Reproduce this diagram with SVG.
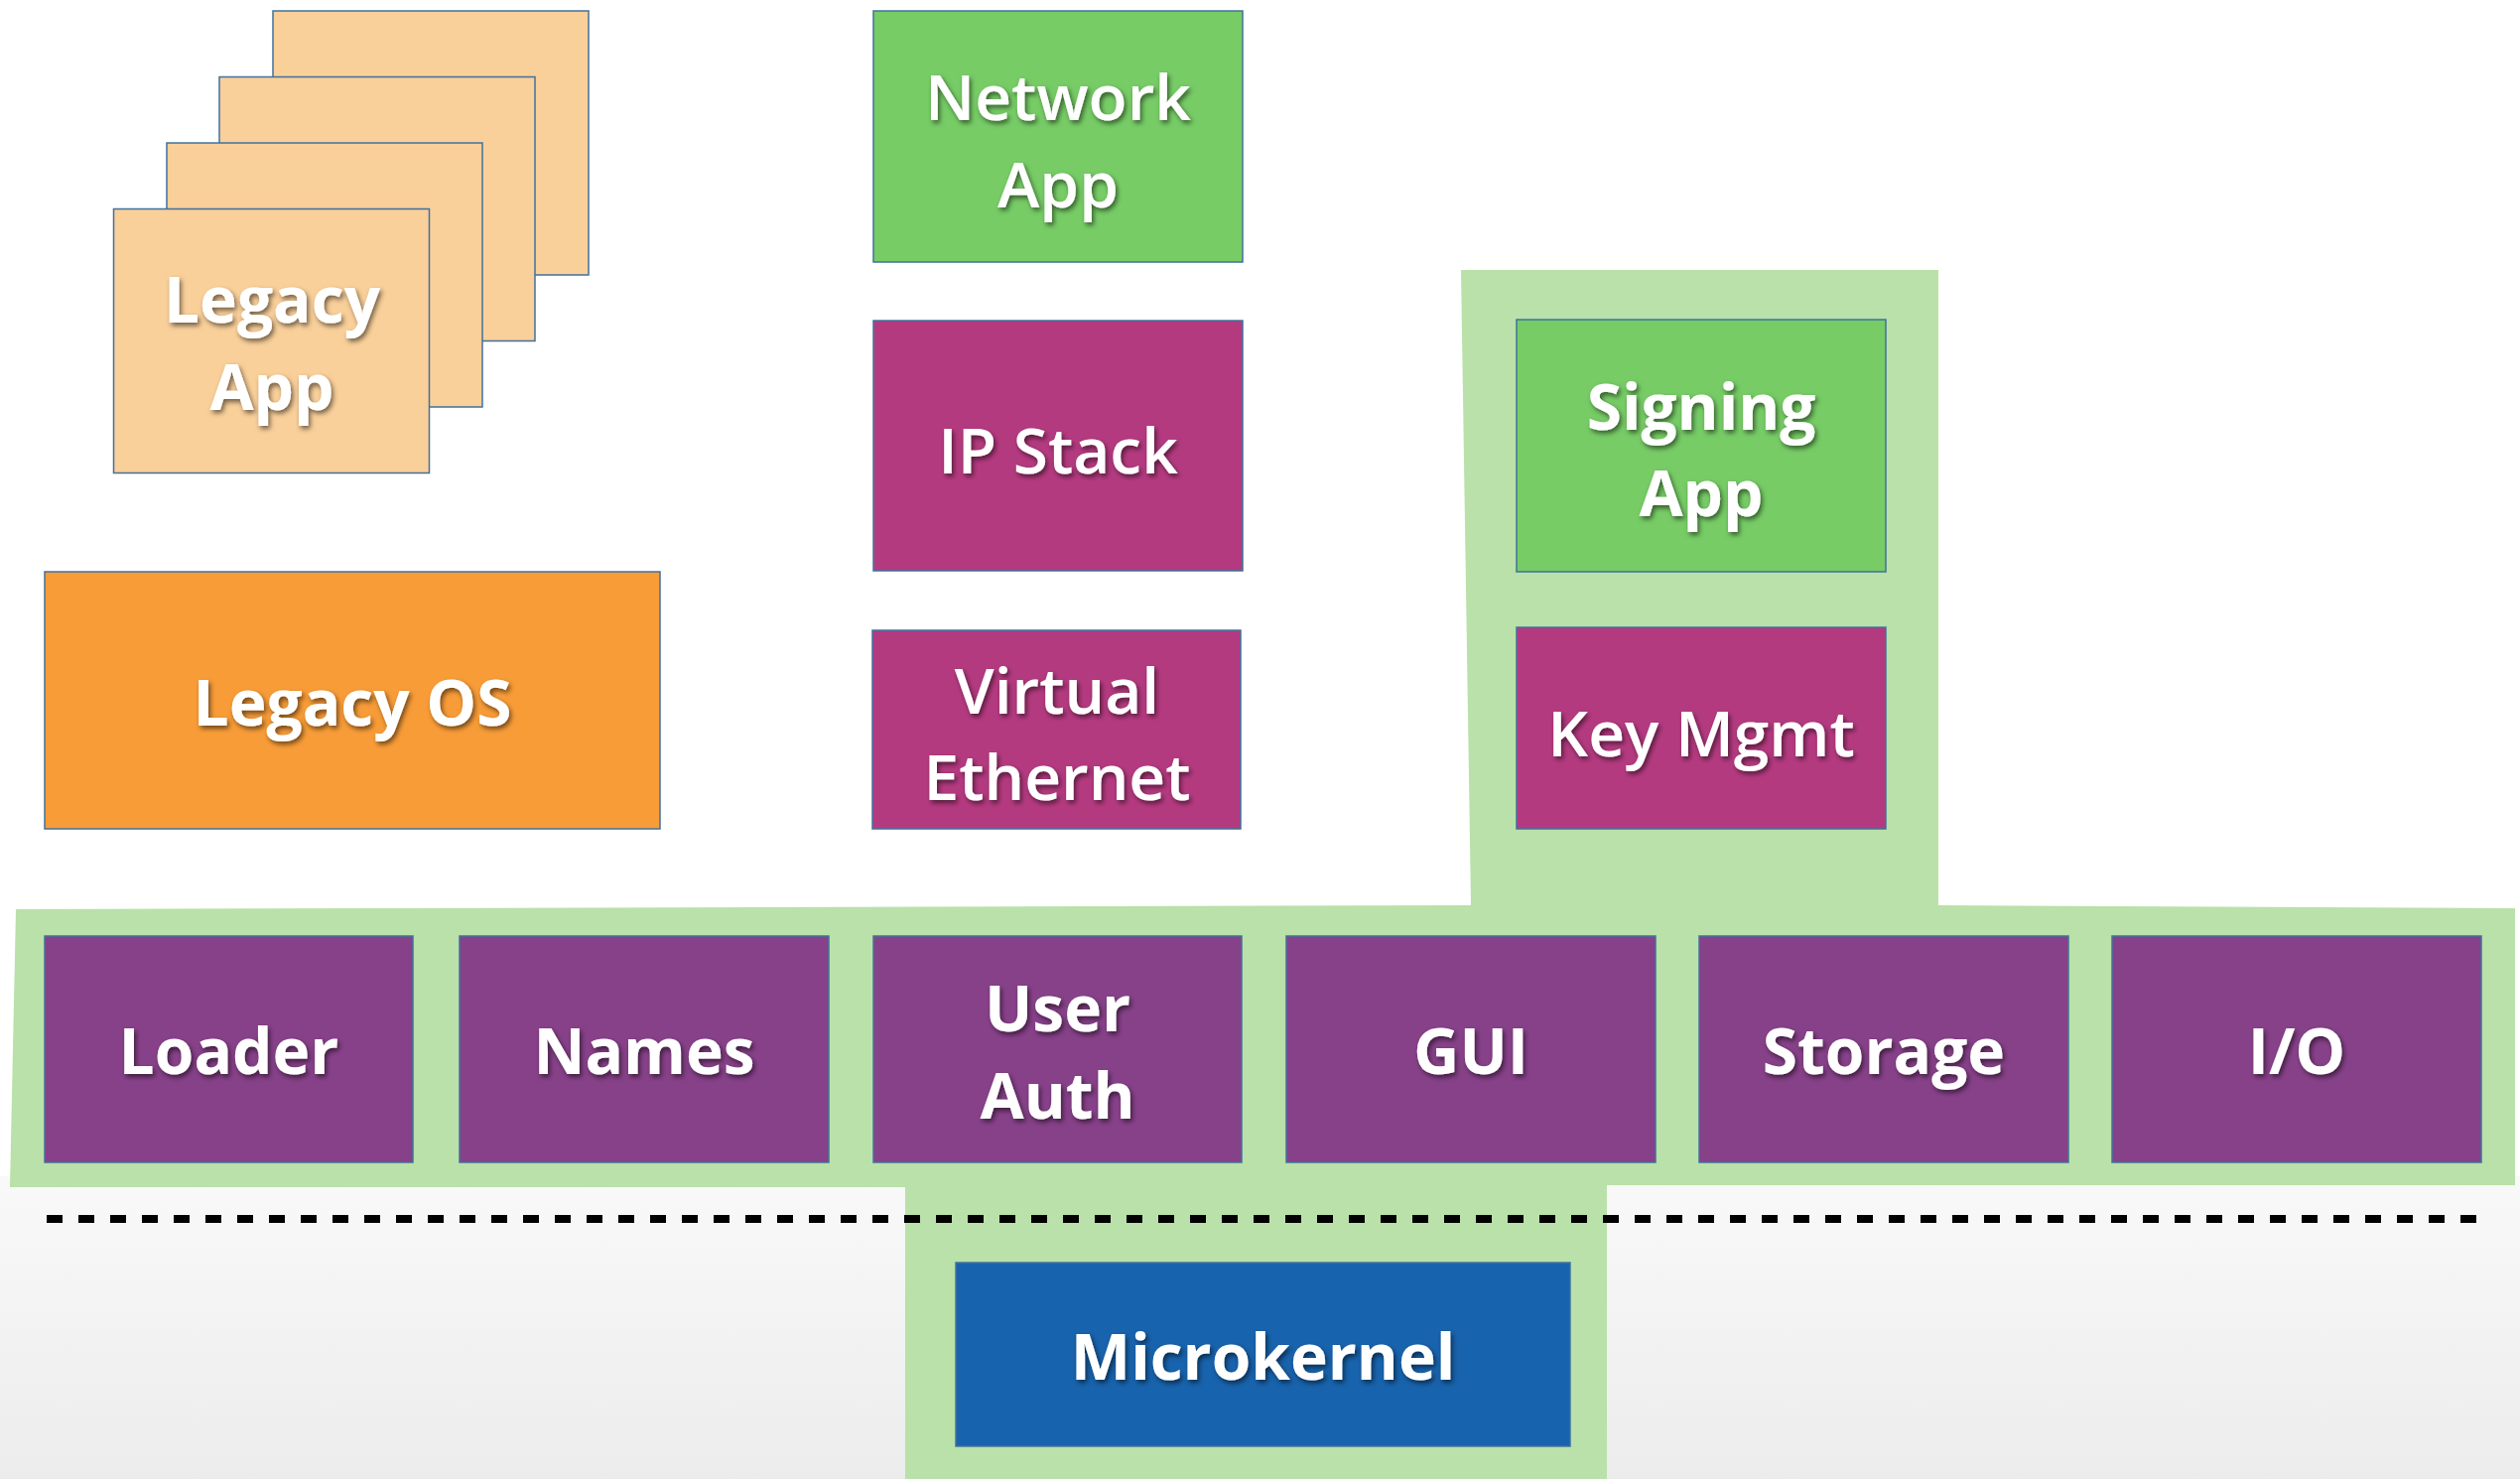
<svg xmlns="http://www.w3.org/2000/svg" width="2539" height="1490" viewBox="0 0 2539 1490">
<defs>
  <linearGradient id="bg" x1="0" y1="0" x2="0" y2="1">
    <stop offset="0" stop-color="#f9f9f9"/>
    <stop offset="1" stop-color="#ececec"/>
  </linearGradient>
  <filter id="ts" x="-20%" y="-40%" width="140%" height="180%">
    <feDropShadow dx="2" dy="3" stdDeviation="2.5" flood-color="#000" flood-opacity="0.55"/>
  </filter>
</defs>
<style>
  .box { stroke: #41719c; stroke-width: 1.5; }
  .peach { fill: #f9cf9a; }
  .orange { fill: #f89c38; }
  .green { fill: #77cc66; }
  .magenta { fill: #b43a80; }
  .purple { fill: #874189; }
  .blue { fill: #1863ad; }
  .lbl { fill: #ffffff; font-family: "Open Sans", "Noto Sans", sans-serif; font-size: 64px; text-anchor: middle; filter: url(#ts); }
  .b { font-weight: 700; }
  .sb { font-weight: 600; }
</style>
<rect x="0" y="0" width="2539" height="1490" fill="#ffffff"/>
<rect x="0" y="1185" width="2539" height="305" fill="url(#bg)"/>
<g id="trusted-zone">
  <polygon points="16,916 1482,912 1472,272 1953,272 1953,912 2534,915 2534,1194 1619,1194 1619,1490 912,1490 912,1196 10,1196" fill="#b9e1a9"/>
</g>
<g id="legacy-app">
  <rect class="box peach" x="275" y="11" width="318" height="266"/>
  <rect class="box peach" x="221" y="77.5" width="318" height="266"/>
  <rect class="box peach" x="168" y="144" width="318" height="266"/>
  <rect class="box peach" x="114.5" y="210.5" width="318" height="266"/>
  <text class="lbl b" x="274" y="325">Legacy</text>
  <text class="lbl b" x="274" y="413">App</text>
</g>
<g id="legacy-os">
  <rect class="box orange" x="45" y="576" width="620" height="259"/>
  <text class="lbl b" x="355" y="731">Legacy OS</text>
</g>
<g id="network-app">
  <rect class="box green" x="880" y="11" width="372" height="253"/>
  <text class="lbl sb" x="1066" y="121">Network</text>
  <text class="lbl sb" x="1066" y="209">App</text>
</g>
<g id="ip-stack">
  <rect class="box magenta" x="880" y="323" width="372" height="252"/>
  <text class="lbl sb" x="1066" y="477">IP Stack</text>
</g>
<g id="virtual-ethernet">
  <rect class="box magenta" x="879" y="635" width="371" height="200"/>
  <text class="lbl sb" x="1065" y="719">Virtual</text>
  <text class="lbl sb" x="1065" y="806">Ethernet</text>
</g>
<g id="signing-app">
  <rect class="box green" x="1528" y="322" width="372" height="254"/>
  <text class="lbl b" x="1714" y="433">Signing</text>
  <text class="lbl b" x="1714" y="520">App</text>
</g>
<g id="key-mgmt">
  <rect class="box magenta" x="1528" y="632" width="372" height="203"/>
  <text class="lbl sb" x="1714" y="762">Key Mgmt</text>
</g>
<g id="loader">
  <rect class="box purple" x="45" y="943" width="371" height="228"/>
  <text class="lbl b" x="230.5" y="1082">Loader</text>
</g>
<g id="names">
  <rect class="box purple" x="463" y="943" width="372" height="228"/>
  <text class="lbl b" x="649" y="1082">Names</text>
</g>
<g id="user-auth">
  <rect class="box purple" x="880" y="943" width="371" height="228"/>
  <text class="lbl b" x="1065.5" y="1039">User</text>
  <text class="lbl b" x="1065.5" y="1127">Auth</text>
</g>
<g id="gui">
  <rect class="box purple" x="1296" y="943" width="372" height="228"/>
  <text class="lbl b" x="1482" y="1082">GUI</text>
</g>
<g id="storage">
  <rect class="box purple" x="1712" y="943" width="372" height="228"/>
  <text class="lbl b" x="1898" y="1082">Storage</text>
</g>
<g id="io">
  <rect class="box purple" x="2128" y="943" width="372" height="228"/>
  <text class="lbl b" x="2314" y="1082">I/O</text>
</g>
<g id="microkernel">
  <rect class="box blue" x="963" y="1272" width="619" height="185"/>
  <text class="lbl b" x="1272.5" y="1390">Microkernel</text>
</g>
<g id="connectors">
  <line x1="47" y1="1228" x2="2495" y2="1228" stroke="#000000" stroke-width="8" stroke-dasharray="16 16"/>
</g>
</svg>
